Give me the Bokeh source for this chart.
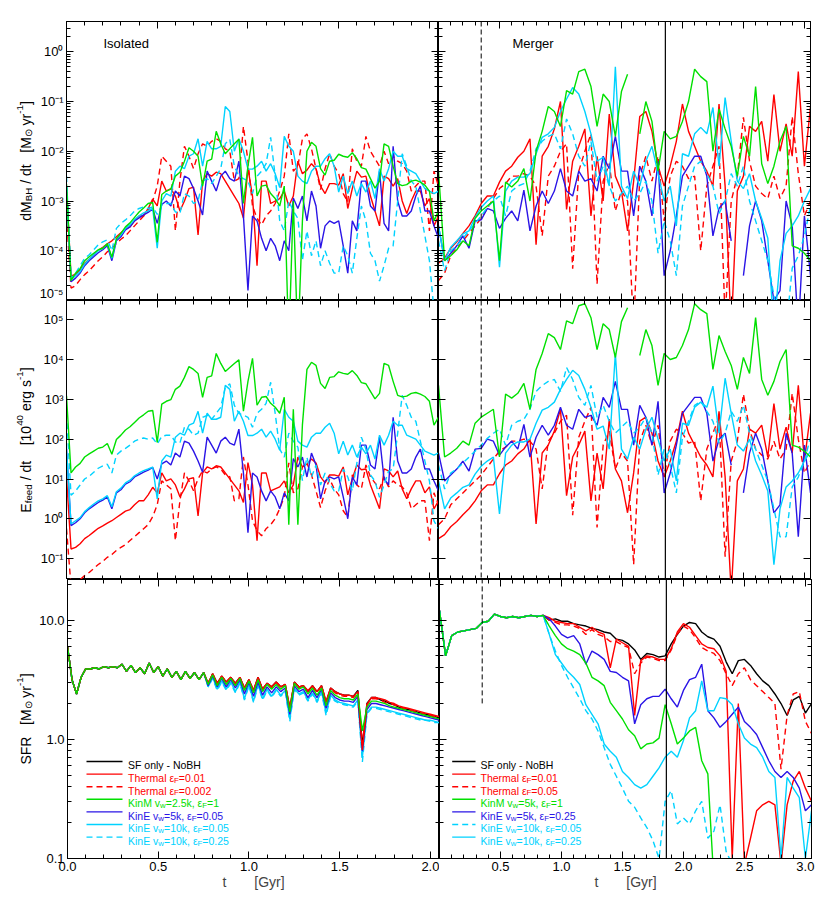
import re
import numpy as np
from bokeh.plotting import figure
from bokeh.layouts import column, row
from bokeh.models import (FixedTicker, LogAxis, LinearAxis, Label, Arrow, Span,
                          CustomJSTickFormatter, PrintfTickFormatter, Range1d)
from bokeh.embed import file_html
from bokeh.resources import INLINE

nan = float("nan")
FONT = "Liberation Sans"

# ------------------------------------------------------------------ data
# time grids [Gyr]
t_iso = np.arange(83) * 0.025      # isolated run, 0 .. 2.05
t_mrg = np.arange(62) * 0.05       # merger run,   0 .. 3.05

# log10 BH accretion rate dM/dt [Msun/yr], isolated
lmdot_iso_th01 = [-2.71, -4.51, -4.47, -4.38, -4.25, -4.17, -4.08, -3.99, -3.93, -3.86,
                  -3.8, -3.72, -3.64, -3.56, -3.52, -3.4, -3.3, -3.3, -3.15, -2.96,
                  -3.1, -2.6, -2.8, -2.75, -2.9, -3.2, -3.0, -2.75, -2.72, -3.68,
                  -2.6, -2.45, -2.5, -2.42, -2.45, -2.6, -2.75, -2.9, -3.05, -3.34,
                  -2.34, -2.9, -4.3, -2.6, -2.6, -3.05, -3.0, -2.95, -2.8, -3.1,
                  -2.9, -2.2, -2.45, -2.38, -2.25, -2.35, -2.7, -2.85, -2.65, -2.65,
                  -2.68, -2.45, -3.15, -2.75, -2.4, -2.52, -2.5, -2.9, -3.2, -3.5,
                  -2.5, -2.55, -2.7, -2.55, -3.0, -3.25, -3.0, -2.8, -2.8, -3.1,
                  -2.95, -3.5, -3.3]
lmdot_iso_th002 = [-3.3, -4.75, -4.7, -4.58, -4.48, -4.4, -4.3, -4.2, -4.12, -4.02,
                   -3.95, -3.85, -3.77, -3.7, -3.6, -3.5, -3.4, -3.3, -3.2, -3.0,
                   -2.7, -2.1, -2.2, -2.3, -3.6, -2.6, -1.9, -2.1, -2.35, -2.05,
                   -1.85, -1.9, -1.8, -1.75, -1.8, -1.95, -2.0, -2.6, -2.55, -1.5,
                   -2.2, -3.1, -3.35, -3.48, -3.3, -3.2, -3.05, -2.8, -2.5, -1.65,
                   -2.4, -2.3, -1.75, -1.65, -1.95, -2.35, -2.77, -2.35, -2.05, -2.3,
                   -2.45, -2.85, -3.02, -1.95, -2.2, -2.3, -1.7, -2.0, -2.15, -2.3,
                   -2.0, -2.25, -2.1, -2.2, -2.25, -2.4, -2.8, -2.7, -2.6, -2.6,
                   -3.6, -2.4, -2.7]
lmdot_iso_kinm = [-2.66, -4.6, -4.45, -4.36, -4.2, -4.12, -4.05, -3.98, -3.95, -3.86,
                  -4.13, -3.76, -3.65, -3.52, -3.44, -3.33, -3.22, -3.14, -3.05, -3.03,
                  -3.83, -2.87, -2.8, -2.76, -2.5, -2.42, -2.2, -1.93, -2.0, -2.1,
                  -2.7, -2.2, -2.16, -1.6, -1.85, -2.05, -1.95, -1.85, -1.76, -3.05,
                  -2.3, -1.72, -2.9, -2.7, -2.68, -2.85, -2.95, -3.1, -2.7, -5.9,
                  -3.0, -5.9, -3.4, -2.0, -1.82, -1.9, -2.35, -2.48, -2.2, -2.18,
                  -2.06, -2.1, -2.12, -2.03, -2.15, -2.33, -2.36, -2.55, -2.74, -2.6,
                  -1.85, -1.9, -2.3, -2.65, -2.69, -2.67, -2.6, -2.58, -2.62, -2.68,
                  -2.8, -3.4, -3.2]
lmdot_iso_kine5 = [-2.7, -4.62, -4.55, -4.45, -4.3, -4.2, -4.12, -4.04, -3.98, -3.9,
                   -4.2, -3.8, -3.72, -3.58, -3.52, -3.4, -3.34, -3.28, -3.23, -3.16,
                   -3.45, -3.07, -3.0, -3.1, -2.8, -2.9, -2.5, -2.55, -2.75, -3.0,
                   -3.28, -2.4, -2.6, -2.8, -2.5, -2.4, -2.55, -2.6, -2.2, -3.3,
                   -4.8, -3.3, -3.4, -3.75, -4.0, -3.75, -3.9, -4.2, -3.8, -4.0,
                   -2.94, -3.15, -2.9, -3.4, -2.8, -3.1, -3.95, -3.5, -3.4, -3.45,
                   -3.4, -3.9, -4.45, -3.4, -3.6, -2.6, -2.6, -3.1, -3.2, -2.4,
                   -3.45, -3.6, -1.9, -3.0, -3.3, -3.3, -3.2, -2.9, -2.7, -3.2,
                   -3.2, -3.5, -3.75]
lmdot_iso_kine10a = [-2.7, -4.58, -4.5, -4.42, -4.27, -4.17, -4.08, -4.0, -3.95, -3.87,
                     -4.15, -3.77, -3.68, -3.55, -3.48, -3.37, -3.3, -3.24, -3.2, -3.15,
                     -3.95, -3.0, -2.85, -2.9, -2.4, -2.3, -2.35, -2.1, -2.05, -1.75,
                     -2.3, -1.8, -1.95, -1.95, -1.9, -1.1, -1.2, -2.0, -1.75, -2.0,
                     -2.36, -2.36, -2.3, -2.2, -2.4, -2.25, -2.45, -2.73, -1.7, -1.9,
                     -2.0, -2.5, -2.6, -2.65, -2.4, -2.3, -2.3, -2.15, -2.05, -2.3,
                     -2.82, -2.5, -2.85, -2.6, -2.9, -2.65, -2.82, -2.6, -2.95, -2.35,
                     -2.6, -2.35, -2.0, -2.1, -2.1, -2.35, -2.4, -2.45, -2.6, -2.75,
                     -2.8, -2.85, -2.8]
lmdot_iso_kine10b = [-2.5, -4.56, -4.45, -4.3, -4.15, -4.08, -3.98, -3.88, -3.82, -3.78,
                     -4.0, -3.55, -3.45, -3.38, -3.3, -3.2, -3.15, -3.12, -3.15, -3.12,
                     -3.27, -3.08, -3.05, -3.05, -3.22, -3.25, -2.85, -2.9, -3.05, -3.0,
                     -2.6, -2.55, -2.65, -2.5, -2.35, -1.85, -1.76, -2.3, -2.5, -2.55,
                     -2.6, -2.85, -2.5, -2.4, -2.25, -1.72, -2.5, -3.4, -3.6, -3.0,
                     -3.2, -3.35, -4.19, -3.6, -4.1, -3.8, -4.3, -4.0, -4.25, -4.45,
                     -4.45, -3.9, -4.1, -4.45, -3.75, -3.1, -3.4, -4.05, -4.2, -4.61,
                     -4.3, -3.95, -3.9, -3.0, -2.05, -2.3, -2.6, -2.7, -3.2, -3.7,
                     -4.2, -5.2, -5.4]

# log10 BH accretion rate dM/dt [Msun/yr], merger
lmdot_mrg_th01 = [-4.25, -4.15, -3.95, -3.82, -3.65, -3.5, -3.3, -3.05, -2.9, -2.9,
                  -2.62, -2.4, -2.3, -2.12, -2.0, -1.75, -3.88, -2.1, -1.9, -1.55,
                  -1.0, -3.17, -2.2, -1.9, -1.55, -3.3, -2.1, -3.0, -1.25, -2.5,
                  -2.8, -3.6, -2.6, -1.3, -1.2, -1.6, -2.3, -2.7, -2.3, -1.8,
                  -1.05, -1.6, -1.9, -2.2, -2.4, -2.7, -1.05, -2.7, -5.6, -2.8,
                  -2.5, -1.5, -1.6, -1.4, -2.2, -0.86, -2.0, -1.45, -2.1, -0.4,
                  -2.3, -1.1]
lmdot_mrg_th05 = [-4.6, -4.45, -4.1, -3.95, -3.8, -3.65, -3.5, -3.35, -3.15, -2.95,
                  -2.75, -2.65, -2.5, -2.5, -2.45, -2.5, -2.7, -3.7, -2.5, -2.3,
                  -2.0, -1.85, -4.36, -2.4, -2.0, -1.65, -4.67, -2.6, -2.25, -3.2,
                  -2.8, -3.0, -5.6, -2.5, -2.1, -2.6, -2.1, -3.4, -2.5, -2.2,
                  -2.3, -2.55, -2.5, -4.0, -2.7, -2.3, -1.9, -5.4, -3.0, -2.5,
                  -1.32, -2.2, -2.7, -2.85, -2.95, -2.5, -2.95, -2.7, -1.3, -2.45,
                  -3.3, -3.0]
lmdot_mrg_kinm = [-2.4, -4.2, -4.1, -3.98, -3.8, -3.9, -3.35, -3.2, -3.1, -3.0,
                  -4.2, -2.62, -2.72, -2.6, -2.35, -3.0, -2.0, -1.6, -1.1, -1.2,
                  -1.5, -0.78, -0.85, -0.4, -0.35, -0.7, -1.5, -0.85, -1.0, -1.7,
                  -0.8, -0.45, nan, -1.65, -1.0, -1.4, -2.4, -1.6, -1.75, -1.7,
                  -1.4, -1.0, -0.35, -0.5, -0.6, -2.0, -1.15, -1.55, -1.9, -2.5,
                  -1.7, -2.1, -0.7, -2.25, -2.65, -2.3, -1.8, -1.5, -3.9, -3.95,
                  -4.05, -4.2]
lmdot_mrg_kine5 = [-3.5, -4.2, -4.05, -3.9, -3.7, -3.95, -3.4, -3.38, -3.15, -3.2,
                   -3.55, -3.35, -3.2, -3.4, -2.78, -3.6, -3.1, -2.8, -3.05, -2.8,
                   -2.35, -2.8, -2.9, -2.4, -2.6, -2.55, -2.8, -2.1, -2.35, -1.7,
                   -2.4, -2.4, -3.3, -2.3, -2.6, -3.3, -2.2, -4.5, -4.0, -3.3,
                   -2.5, -2.3, -2.1, -2.1, -2.5, -3.7, -3.15, -3.0, -3.8, nan,
                   -4.5, -3.5, -3.0, -3.4, -4.2, -5.0, -4.8, -3.0, -3.5, -5.6,
                   -3.3, -4.5]
lmdot_mrg_kine10_solid = [-3.5, -4.2, -3.93, -3.8, -3.66, -3.6, -3.33, -3.13, -3.0, -2.9,
                          -4.33, -2.8, -2.6, -2.52, -2.52, -2.45, -2.05, -1.72, -1.65, -1.52,
                          -1.2, -0.95, -0.72, -0.85, -1.2, -1.65, -2.2, -2.12, -2.7, -0.3,
                          -2.7, -2.95, -2.4, -2.7, -2.2, -1.9, -2.45, -3.0, -2.7, -3.5,
                          -2.05, -2.1, -1.65, -1.52, -1.65, -1.12, -2.3, -0.92, -1.8, -2.6,
                          -2.75, -2.45, -3.0, -3.35, -3.75, -5.6, -4.2, -3.65, -3.5, -3.3,
                          -3.0, -2.75]
lmdot_mrg_kine10_dash = [-3.8, -4.4, -4.0, -3.9, -3.75, -3.6, -3.45, -3.3, -3.13, -3.0,
                         -2.9, -3.3, -2.8, -2.7, -2.65, -2.4, -1.95, -1.8, -1.7, -1.65,
                         -1.95, -1.35, -1.65, -2.1, -2.3, -1.8, -2.6, -2.3, -2.7, -3.0,
                         -2.85, -2.7, -3.0, -2.85, -2.6, -3.0, -4.05, -3.4, -3.8, -4.5,
                         -3.1, -2.7, -2.3, -2.2, -2.45, -2.7, -3.25, -3.0, -2.45, -2.7,
                         -2.3, -3.0, -3.4, -3.8, -4.2, -4.9, -5.6, -5.6, -4.35, -4.1,
                         -3.7, -3.1]

# log10 SFR [Msun/yr], isolated: common start (t <= 0.75) + individual tails
lsfr_iso_early = [0.78, 0.5, 0.38, 0.52, 0.59, 0.59, 0.6, 0.59, 0.61, 0.6,
                  0.61, 0.6, 0.63, 0.57, 0.62, 0.56, 0.6, 0.55, 0.64, 0.56,
                  0.61, 0.53, 0.59, 0.52, 0.57, 0.5, 0.57, 0.51, 0.56, 0.5, 0.56]
lsfr_iso_sf = [0.47, 0.55, 0.47, 0.53, 0.48, 0.52, 0.47, 0.52, 0.43, 0.5, 0.41, 0.52, 0.42,
               0.47, 0.44, 0.48, 0.44, 0.46, 0.26, 0.48, 0.44, 0.45, 0.4, 0.45, 0.4, 0.45,
               0.31, 0.43, 0.4, 0.38, 0.37, 0.37, 0.36, 0.41, -0.05, 0.3, 0.35, 0.35, 0.33,
               0.32, 0.3, 0.29, 0.27, 0.26, 0.25, 0.24, 0.23, 0.22, 0.21, 0.2, 0.19, 0.18]
lsfr_iso_th01 = [0.47, 0.55, 0.47, 0.53, 0.48, 0.52, 0.47, 0.52, 0.43, 0.5, 0.41, 0.52, 0.42,
                 0.47, 0.44, 0.48, 0.44, 0.46, 0.27, 0.48, 0.44, 0.45, 0.41, 0.45, 0.4, 0.45,
                 0.32, 0.43, 0.4, 0.38, 0.37, 0.37, 0.36, 0.4, -0.09, 0.29, 0.35, 0.35, 0.34,
                 0.33, 0.31, 0.3, 0.28, 0.27, 0.26, 0.25, 0.24, 0.23, 0.22, 0.21, 0.2, 0.19]
lsfr_iso_th002 = [0.47, 0.55, 0.47, 0.53, 0.48, 0.52, 0.46, 0.52, 0.43, 0.5, 0.41, 0.51, 0.42,
                  0.47, 0.43, 0.48, 0.43, 0.46, 0.26, 0.47, 0.43, 0.45, 0.4, 0.44, 0.39, 0.45,
                  0.31, 0.42, 0.39, 0.37, 0.36, 0.36, 0.35, 0.4, -0.04, 0.29, 0.34, 0.34, 0.33,
                  0.31, 0.3, 0.29, 0.27, 0.26, 0.25, 0.24, 0.23, 0.22, 0.21, 0.2, 0.19, 0.18]
lsfr_iso_kinm = [0.46, 0.54, 0.45, 0.52, 0.46, 0.51, 0.45, 0.51, 0.41, 0.49, 0.39, 0.5, 0.4,
                 0.46, 0.42, 0.46, 0.42, 0.45, 0.23, 0.47, 0.42, 0.44, 0.38, 0.43, 0.37, 0.43,
                 0.28, 0.41, 0.37, 0.35, 0.34, 0.34, 0.33, 0.38, 0.07, 0.27, 0.32, 0.32, 0.31,
                 0.3, 0.28, 0.27, 0.26, 0.25, 0.24, 0.23, 0.22, 0.21, 0.2, 0.19, 0.18, 0.17]
lsfr_iso_kine5 = [0.45, 0.53, 0.44, 0.51, 0.44, 0.5, 0.43, 0.5, 0.38, 0.48, 0.36, 0.48, 0.37,
                  0.44, 0.39, 0.44, 0.4, 0.43, 0.21, 0.45, 0.4, 0.42, 0.35, 0.41, 0.35, 0.42,
                  0.26, 0.39, 0.35, 0.33, 0.32, 0.32, 0.31, 0.36, -0.1, 0.25, 0.3, 0.3, 0.29,
                  0.28, 0.27, 0.26, 0.25, 0.24, 0.23, 0.22, 0.21, 0.2, 0.19, 0.18, 0.17, 0.16]
lsfr_iso_kine10a = [0.44, 0.52, 0.42, 0.49, 0.42, 0.48, 0.4, 0.48, 0.34, 0.46, 0.32, 0.46, 0.34,
                    0.42, 0.36, 0.42, 0.37, 0.41, 0.17, 0.43, 0.38, 0.4, 0.33, 0.39, 0.32, 0.4,
                    0.22, 0.37, 0.33, 0.31, 0.3, 0.29, 0.28, 0.33, -0.15, 0.22, 0.27, 0.27, 0.26,
                    0.25, 0.24, 0.23, 0.22, 0.21, 0.2, 0.19, 0.18, 0.17, 0.16, 0.16, 0.15, 0.14]
lsfr_iso_kine10b = [0.44, 0.51, 0.41, 0.48, 0.41, 0.47, 0.39, 0.47, 0.33, 0.45, 0.31, 0.45, 0.33,
                    0.41, 0.35, 0.41, 0.36, 0.4, 0.15, 0.42, 0.37, 0.39, 0.32, 0.38, 0.31, 0.39,
                    0.2, 0.36, 0.32, 0.3, 0.29, 0.28, 0.27, 0.32, -0.19, 0.21, 0.26, 0.26, 0.25,
                    0.24, 0.23, 0.22, 0.21, 0.2, 0.19, 0.18, 0.17, 0.16, 0.16, 0.15, 0.14, 0.14]

# log10 SFR [Msun/yr], merger: common start (t <= 0.85) + individual tails
lsfr_mrg_early = [1.08, 0.7, 0.87, 0.9, 0.91, 0.92, 0.93, 0.98, 0.99, 1.05,
                  1.03, 1.02, 1.03, 1.02, 1.03, 1.04, 1.03, 1.04]
lsfr_mrg_sf = [1.0, 1.01, 0.99, 0.99, 0.97, 0.96, 0.95, 0.93, 0.92, 0.9,
               0.89, 0.84, 0.83, 0.8, 0.75, 0.67, 0.72, 0.71, 0.69, 0.7,
               0.8, 0.88, 0.95, 0.98, 0.97, 0.9, 0.86, 0.84, 0.78, 0.65,
               0.55, 0.66, 0.67, 0.62, 0.55, 0.49, 0.45, 0.38, 0.3, 0.2,
               0.33, 0.36, 0.22, 0.3]
lsfr_mrg_th01 = [1.02, 0.99, 0.98, 0.97, 0.97, 0.94, 0.91, 0.94, 0.9, 0.88,
                 0.6, 0.84, 0.81, 0.78, 0.2, 0.66, 0.7, 0.69, 0.67, 0.67,
                 0.76, 0.9, 0.97, 0.94, 0.87, 0.8, 0.77, 0.76, 0.7, 0.57,
                 -1.0, 0.3, -1.05, -0.83, -0.6, -0.55, -0.52, -0.55, -1.05, -0.55,
                 -0.35, -0.27, -0.41, -0.52]
lsfr_mrg_th05 = [1.0, 0.98, 0.96, 0.96, 0.95, 0.93, 0.88, 0.92, 0.88, 0.86,
                 0.82, 0.82, 0.79, 0.77, 0.55, 0.64, 0.69, 0.68, 0.66, 0.66,
                 0.75, 0.88, 0.95, 0.92, 0.85, 0.77, 0.74, 0.72, 0.66, 0.55,
                 0.45, 0.55, 0.6, 0.5, 0.45, 0.4, 0.35, 0.3, -0.25, 0.2,
                 0.38, 0.4, 0.15, 0.05]
lsfr_mrg_kinm = [0.95, 0.87, 0.8, 0.76, 0.74, 0.71, 0.64, 0.52, 0.49, 0.45,
                 0.31, 0.24, 0.17, 0.08, 0.03, -0.08, -0.04, -0.03, 0.01, 0.29,
                 0.13, -0.04, 0.01, 0.07, 0.1, -0.18, -0.29, -1.2, nan, nan,
                 nan, nan, nan, nan, nan, nan, nan, nan, nan, nan,
                 nan, nan, nan, nan]
lsfr_mrg_kine5 = [1.01, 0.95, 0.88, 0.85, 0.87, 0.8, 0.63, 0.74, 0.71, 0.67,
                  0.57, 0.56, 0.52, 0.49, 0.13, 0.29, 0.34, 0.36, 0.36, 0.42,
                  0.34, 0.27, 0.41, 0.5, 0.52, 0.63, 0.24, 0.18, 0.1, 0.15,
                  0.21, 0.27, 0.15, 0.1, 0.04, -0.07, -0.18, -0.27, -0.32, -0.27,
                  -0.32, -0.41, -0.6, -0.55]
lsfr_mrg_kine10_solid = [0.88, 0.71, 0.64, 0.57, 0.52, 0.46, 0.29, 0.21, 0.13, -0.04,
                         -0.1, -0.15, -0.27, -0.32, -0.38, -0.41, -0.38, -0.31, -0.24, -0.15,
                         -0.1, -0.15, -0.01, 0.18, 0.24, 0.49, 0.24, 0.24, 0.35, 0.34,
                         0.29, 0.13, 0.01, -0.04, -0.07, -0.15, -0.27, -0.32, -1.0, -0.32,
                         -0.41, -0.49, -1.0, -0.6]
lsfr_mrg_kine10_dash = [0.88, 0.74, 0.62, 0.52, 0.43, 0.34, 0.24, 0.17, 0.07, -0.07,
                        -0.21, -0.31, -0.41, -0.52, -0.57, -0.66, -0.74, -0.85, -1.0, -0.52,
                        -0.43, -0.71, -0.66, -0.71, -0.6, -0.52, -0.83, -0.77, -0.55, -0.94,
                        -1.05, -1.2, nan, nan, nan, nan, nan, nan, nan, nan,
                        nan, nan, nan, nan]

# feed energy: E_feed = eps_F * eps_r * Mdot c^2   (units 1e40 erg/s)
EPS_R = 0.1
MSUNYR_C2_E40 = 5.664e6
t_events = [0.35, 1.86]          # merger: first passage (dashed) and coalescence (solid)
sfr_event_floor = 2.0            # dashed first-passage marker drawn above this SFR

# ------------------------------------------------------------------ style
BLACK, RED, GREEN, BLUE, CYAN = "#000000", "#ff0000", "#00e000", "#2a14e6", "#00d2ff"
DASH = "6 4"
LW = 1.4

iso_series = [  # (lmdot, lsfr_tail, eps_F, color, dash)
    (lmdot_iso_th01, lsfr_iso_th01, 0.01, RED, "solid"),
    (lmdot_iso_th002, lsfr_iso_th002, 0.002, RED, DASH),
    (lmdot_iso_kine5, lsfr_iso_kine5, 0.05, BLUE, "solid"),
    (lmdot_iso_kine10a, lsfr_iso_kine10a, 0.05, CYAN, "solid"),
    (lmdot_iso_kine10b, lsfr_iso_kine10b, 0.25, CYAN, DASH),
    (lmdot_iso_kinm, lsfr_iso_kinm, 1.0, GREEN, "solid"),
]
mrg_series = [
    (lmdot_mrg_th01, lsfr_mrg_th01, 0.01, RED, "solid"),
    (lmdot_mrg_th05, lsfr_mrg_th05, 0.05, RED, DASH),
    (lmdot_mrg_kine5, lsfr_mrg_kine5, 0.25, BLUE, "solid"),
    (lmdot_mrg_kine10_solid, lsfr_mrg_kine10_solid, 0.05, CYAN, "solid"),
    (lmdot_mrg_kine10_dash, lsfr_mrg_kine10_dash, 0.25, CYAN, DASH),
    (lmdot_mrg_kinm, lsfr_mrg_kinm, 1.0, GREEN, "solid"),
]

legend_iso = [("SF only - NoBH", BLACK, "solid"),
              ("Thermal ε_{F}=0.01", RED, "solid"),
              ("Thermal ε_{F}=0.002", RED, DASH),
              ("KinM v_{w}=2.5k, ε_{F}=1", GREEN, "solid"),
              ("KinE v_{w}=5k, ε_{F}=0.05", BLUE, "solid"),
              ("KinE v_{w}=10k, ε_{F}=0.05", CYAN, "solid"),
              ("KinE v_{w}=10k, ε_{F}=0.25", CYAN, DASH)]
legend_mrg = [("SF only - NoBH", BLACK, "solid"),
              ("Thermal ε_{F}=0.01", RED, "solid"),
              ("Thermal ε_{F}=0.05", RED, DASH),
              ("KinM v_{w}=5k, ε_{F}=1", GREEN, "solid"),
              ("KinE v_{w}=5k, ε_{F}=0.25", BLUE, "solid"),
              ("KinE v_{w}=10k, ε_{F}=0.05", CYAN, DASH),
              ("KinE v_{w}=10k, ε_{F}=0.25", CYAN, "solid")]

YLAB = ["dM_{BH} / dt   [M_{⊙} yr^{-1}]",
        "E_{feed} / dt    [10^{40} erg s^{-1}]",
        "SFR   [M_{⊙} yr^{-1}]"]

# ------------------------------------------------------------------ text helpers
CW = {c: 556 for c in "0123456789abdeghnopqu"}
CW.update({" ": 278, ".": 278, ",": 278, "=": 584, "-": 333, "/": 278, "[": 278, "]": 278,
           "c": 500, "f": 278, "i": 222, "j": 222, "k": 500, "l": 222, "m": 833, "r": 333,
           "s": 500, "t": 278, "v": 500, "w": 722, "x": 500, "y": 500, "z": 500,
           "B": 667, "E": 667, "F": 611, "H": 722, "I": 278, "K": 667, "M": 833, "N": 722,
           "R": 722, "S": 667, "T": 611, "ε": 440, "⊙": 800})


def tw(s, size):
    return sum(CW.get(c, 556) for c in s) * size / 1000.0


def parse(s):
    out = []
    for m in re.finditer(r"_\{([^}]*)\}|\^\{([^}]*)\}|([^_^]+)", s):
        if m.group(1) is not None:
            out.append((m.group(1), "sub"))
        elif m.group(2) is not None:
            out.append((m.group(2), "sup"))
        else:
            out.append((m.group(3), "n"))
    return out


def rich_length(markup, fs, scale):
    return sum(tw(t, fs if k == "n" else fs * scale) for t, k in parse(markup))


def rich(p, x, y, markup, color, fs, angle=0.0, scale=0.7):
    """Place text with sub/superscripts; (x, y) = baseline start in frame pixels."""
    pos = 0.0
    for txt, kind in parse(markup):
        size = fs if kind == "n" else fs * scale
        shift = {"n": 0.0, "sub": -0.22 * fs, "sup": 0.42 * fs}[kind]
        for part in re.split(r"( {2,})", txt):
            if not part:
                continue
            if part.strip() == "":
                pos += tw(part, size)
                continue
            lead = len(part) - len(part.lstrip(" "))
            trail = len(part) - len(part.rstrip(" "))
            core = part.strip(" ")
            pos += tw(" " * lead, size)
            if angle == 0.0:
                lx, ly = x + pos, y + shift
            else:
                lx, ly = x - shift, y + pos
            p.add_layout(Label(x=float(lx), y=float(ly), x_units="screen", y_units="screen",
                               text=core, text_font=FONT, text_font_size=f"{size:.1f}px",
                               text_color=color, text_align="left",
                               text_baseline="alphabetic", angle=float(angle)))
            pos += tw(core, size) + tw(" " * trail, size)


# ------------------------------------------------------------------ panels
FW, FH = 372, 279
TITLE_W = 36          # strip holding the rotated y titles
LB, RB, TB, BB = 30, 12, 21, 40
SUP_FMT = CustomJSTickFormatter(code="""
const s = {'-':'\u207b','0':'\u2070','1':'\u00b9','2':'\u00b2','3':'\u00b3','4':'\u2074',
           '5':'\u2075','6':'\u2076','7':'\u2077','8':'\u2078','9':'\u2079'};
const e = Math.round(Math.log10(tick));
return '10' + String(e).split('').map(c => s[c]).join('');
""")
BLANK_FMT = CustomJSTickFormatter(code="return '';")


def style_axis(ax, ticker, formatter, labels):
    ax.ticker = ticker
    ax.major_tick_in, ax.major_tick_out = 7, 0
    ax.minor_tick_in, ax.minor_tick_out = 4, 0
    ax.axis_line_color = "black"
    ax.major_tick_line_color = "black"
    ax.minor_tick_line_color = "black"
    ax.major_label_text_font = FONT
    ax.major_label_text_color = "black"
    if labels:
        ax.formatter = formatter
        ax.major_label_text_font_size = "13px"
        ax.major_label_standoff = 3
    else:
        ax.formatter = BLANK_FMT
        ax.major_label_text_font_size = "0px"
        ax.major_label_standoff = 0


def decade_minor(lo, hi):
    return [m * 10.0 ** e for e in range(lo, hi) for m in range(2, 10)]


def panel(xmax, yr, yticker, yfmt, col, rowi):
    left, top, bottom = col == 0, rowi == 0, rowi == 2
    p = figure(frame_width=FW, frame_height=FH, x_range=Range1d(0, xmax), y_range=Range1d(*yr),
               y_axis_type="log", output_backend="svg", toolbar_location=None,
               min_border_left=LB if left else 0, min_border_right=0 if left else RB,
               min_border_top=TB if top else 0, min_border_bottom=BB if bottom else 0,
               background_fill_color="white", border_fill_color="white")
    p.grid.visible = False
    p.outline_line_color = "black"
    xmaj = [0.5 * i for i in range(int(xmax / 0.5) + 1)]
    xmin = [0.1 * i for i in range(int(round(xmax / 0.1)) + 1)]
    xt = FixedTicker(ticks=xmaj, minor_ticks=xmin)
    xfmt = PrintfTickFormatter(format="%.1f") if left else \
        CustomJSTickFormatter(code="return tick < 0.01 ? '' : tick.toFixed(1);")
    xb = p.below[0]
    style_axis(p.left[0], yticker, yfmt, left)
    style_axis(xb, xt, xfmt, bottom)
    if bottom:
        xb.axis_label = "t\u2003\u2003[Gyr]"
        xb.axis_label_text_font = FONT
        xb.axis_label_text_font_style = "normal"
        xb.axis_label_text_font_size = "14px"
        xb.axis_label_standoff = 0
    ra = LogAxis()
    style_axis(ra, yticker, None, False)
    p.add_layout(ra, "right")
    ta = LinearAxis()
    style_axis(ta, xt, None, False)
    p.add_layout(ta, "above")
    return p


def title_strip(rowi):
    p = figure(frame_width=TITLE_W, frame_height=FH, x_range=Range1d(0, TITLE_W),
               y_range=Range1d(0, FH), x_axis_location=None, y_axis_location=None,
               output_backend="svg", toolbar_location=None,
               min_border_left=0, min_border_right=0,
               min_border_top=TB if rowi == 0 else 0, min_border_bottom=BB if rowi == 2 else 0,
               background_fill_color="white", border_fill_color="white")
    p.grid.visible = False
    p.outline_line_color = None
    lab = YLAB[rowi]
    L = rich_length(lab, 14, 0.7)
    rich(p, 25.0, FH / 2 - L / 2, lab, "black", 14, angle=np.pi / 2, scale=0.7)
    return p


tick_mdot = FixedTicker(ticks=[10.0 ** e for e in range(-5, 1)], minor_ticks=decade_minor(-5, 1))
tick_e = FixedTicker(ticks=[10.0 ** e for e in range(-1, 6)], minor_ticks=[])
tick_sfr = FixedTicker(ticks=[0.1, 1.0, 10.0], minor_ticks=decade_minor(-1, 2))

YR_MDOT, YR_E, YR_SFR = (1e-5, 4.06), (0.030, 3.05e5), (0.1, 21.9)

rows = []
for rowi, (yr, tick, fmt) in enumerate([(YR_MDOT, tick_mdot, SUP_FMT),
                                         (YR_E, tick_e, SUP_FMT),
                                         (YR_SFR, tick_sfr, PrintfTickFormatter(format="%.1f"))]):
    rows.append([panel(2.05, yr, tick, fmt, 0, rowi), panel(3.05, yr, tick, fmt, 1, rowi)])

# --- data lines
for col, (tt, series, early, sf_tail) in enumerate([
        (t_iso, iso_series, lsfr_iso_early, lsfr_iso_sf),
        (t_mrg, mrg_series, lsfr_mrg_early, lsfr_mrg_sf)]):
    p_m, p_e, p_s = rows[0][col], rows[1][col], rows[2][col]
    for lmd, _, eps, color, dash in series:
        mdot = 10.0 ** np.array(lmd)
        p_m.line(tt, mdot, line_color=color, line_dash=dash, line_width=LW)
        p_e.line(tt, eps * EPS_R * MSUNYR_C2_E40 * mdot, line_color=color, line_dash=dash,
                 line_width=LW)
    if col == 1:
        sfr_order = [(sf_tail, BLACK, "solid")] + [(s[1], s[3], s[4]) for s in series]
    else:
        sfr_order = ([(s[1], s[3], s[4]) for s in series if s[3] == CYAN][::-1] +
                     [(s[1], s[3], s[4]) for s in series if s[3] == BLUE] +
                     [(sf_tail, BLACK, "solid")] +
                     [(s[1], s[3], s[4]) for s in series if s[3] == RED][::-1] +
                     [(s[1], s[3], s[4]) for s in series if s[3] == GREEN])
    for tail, color, dash in sfr_order:
        p_s.line(tt, 10.0 ** np.array(early + tail), line_color=color, line_dash=dash,
                 line_width=LW)

# --- merger event markers
for rowi in range(3):
    p = rows[rowi][1]
    p.add_layout(Span(location=t_events[1], dimension="height", line_color="black",
                      line_width=1.2))
    if rowi < 2:
        p.add_layout(Span(location=t_events[0], dimension="height", line_color="black",
                          line_dash="5 3", line_width=1))
    else:
        p.segment(x0=[t_events[0]], y0=[sfr_event_floor], x1=[t_events[0]], y1=[YR_SFR[1]],
                  line_color="black", line_dash="5 3", line_width=1)

# --- panel titles
for col, (txt, x) in enumerate([("Isolated", 37), ("Merger", 74)]):
    rows[0][col].add_layout(Label(x=x, y=FH - 21.5, x_units="screen", y_units="screen",
                                  text=txt, text_font=FONT, text_font_size="13px",
                                  text_color="black", text_baseline="alphabetic"))

# --- legends in SFR panels
LEG_Y0, LEG_DY = 97.0, 12.6
for col, (items, sx0, sx1, tx) in enumerate([(legend_iso, 19, 55, 60.5),
                                              (legend_mrg, 12.7, 36, 41)]):
    p = rows[2][col]
    for i, (lab, color, dash) in enumerate(items):
        yc = LEG_Y0 - i * LEG_DY
        p.add_layout(Arrow(end=None, x_start=sx0, y_start=yc, x_end=sx1, y_end=yc,
                           start_units="screen", end_units="screen", line_color=color,
                           line_width=LW, line_dash=dash))
        rich(p, tx, yc - 3.8, lab, color, 10.5, scale=0.75)

layout = column(*[row(title_strip(i), *r) for i, r in enumerate(rows)])
open("out.html", "w").write(file_html(layout, INLINE))
